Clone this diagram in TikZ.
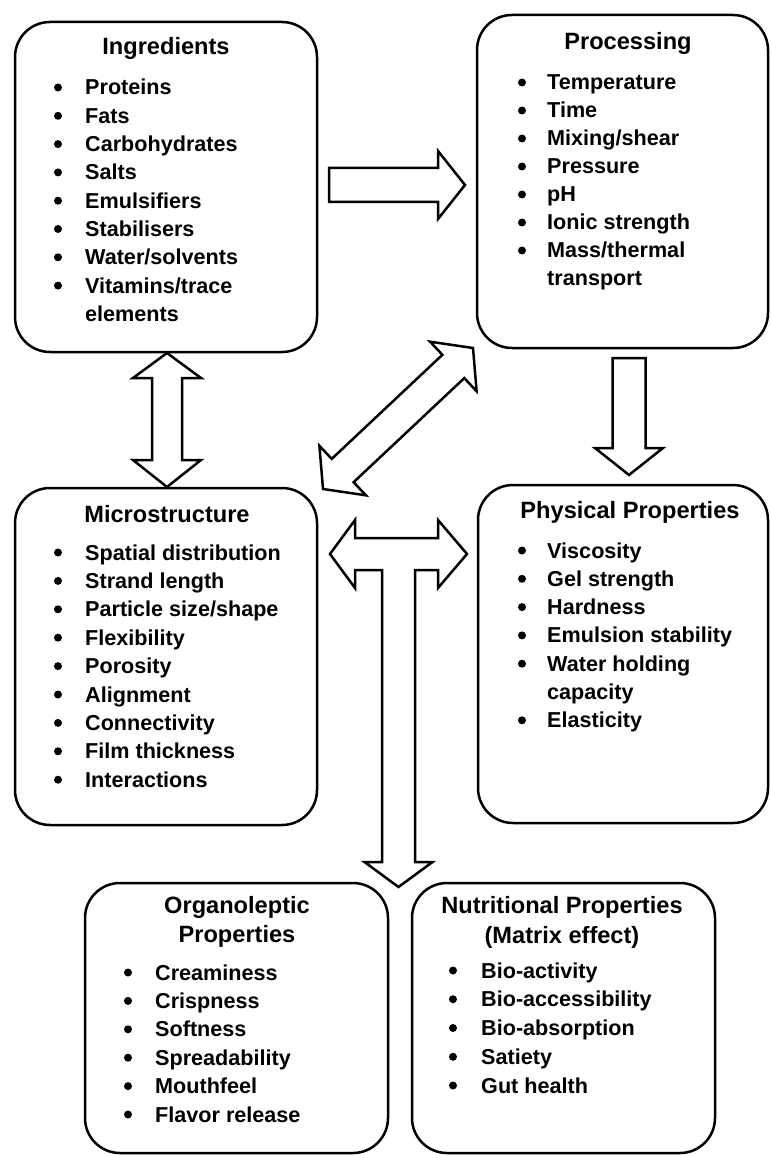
\documentclass[tikz,border=0pt]{standalone}
\usepackage{fontspec}
\setmainfont{Liberation Sans}
\usetikzlibrary{calc}
\tikzset{
  box/.style={draw, line width=2.5pt, rounded corners=35pt, inner sep=0pt},
  ttl/.style={anchor=base, inner sep=0pt, font=\bfseries\fontsize{23.6}{28}\selectfont},
  itm/.style={anchor=base west, inner sep=0pt, font=\bfseries\fontsize{21.6}{28}\selectfont},
  blockarrow/.style={draw, line width=2.5pt, fill=white, line join=miter},
}
\begin{document}
\begin{tikzpicture}[x=1pt,y=-1pt]
\useasboundingbox (0,0) rectangle (770,1155);
% boxes
\node[box, minimum width=302, minimum height=330] (ing) at (166,187) {};
\node[box, minimum width=291, minimum height=333] (proc) at (622.5,181.5) {};
\node[box, minimum width=302, minimum height=337] (micro) at (166,656.5) {};
\node[box, minimum width=290, minimum height=338] (phys) at (623,654) {};
\node[box, minimum width=303, minimum height=270] (org) at (236.5,1018) {};
\node[box, minimum width=303, minimum height=270] (nut) at (563.5,1018) {};
% titles
\node[ttl] (ingT) at (166,55) {Ingredients};
\node[ttl] (procT) at (628,50) {Processing};
\node[ttl] (microT) at (167,522) {Microstructure};
\node[ttl] (physT) at (630,518) {Physical Properties};
\node[ttl] (orgT1) at (237,913) {Organoleptic};
\node[ttl] (orgT2) at (237,942) {Properties};
\node[ttl] (nutT1) at (562,913) {Nutritional Properties};
\node[ttl] (nutT2) at (562,943) {(Matrix effect)};
% items
\foreach \t/\b [count=\i from 0] in {Proteins/1,Fats/1,Carbohydrates/1,Salts/1,Emulsifiers/1,Stabilisers/1,{Water/solvents}/1,{Vitamins/trace}/1,elements/0}{
  \node[itm] (ing\i) at (85,{95+28.3*\i}) {\t};
  \ifnum\b=1 \fill (58,{95+28.3*\i-7.5}) circle[radius=4pt]; \fi
}
\foreach \t/\b [count=\i from 0] in {Temperature/1,Time/1,{Mixing/shear}/1,Pressure/1,pH/1,Ionic strength/1,{Mass/thermal}/1,transport/0}{
  \node[itm] (proc\i) at (547,{90+28*\i}) {\t};
  \ifnum\b=1 \fill (522,{90+28*\i-7.5}) circle[radius=4pt]; \fi
}
\foreach \t [count=\i from 0] in {Spatial distribution,Strand length,{Particle size/shape},Flexibility,Porosity,Alignment,Connectivity,Film thickness,Interactions}{
  \node[itm] (micro\i) at (85,{560+28.4*\i}) {\t};
  \fill (58,{560+28.4*\i-7.5}) circle[radius=4pt];
}
\foreach \t/\b [count=\i from 0] in {Viscosity/1,Gel strength/1,Hardness/1,Emulsion stability/1,Water holding/1,capacity/0,Elasticity/1}{
  \node[itm] (phys\i) at (547,{558+28.3*\i}) {\t};
  \ifnum\b=1 \fill (522,{558+28.3*\i-7.5}) circle[radius=4pt]; \fi
}
\foreach \t [count=\i from 0] in {Creaminess,Crispness,Softness,Spreadability,Mouthfeel,Flavor release}{
  \node[itm] (org\i) at (155,{980+28.4*\i}) {\t};
  \fill (128,{980+28.4*\i-7.5}) circle[radius=4pt];
}
\foreach \t [count=\i from 0] in {Bio-activity,Bio-accessibility,Bio-absorption,Satiety,Gut health}{
  \node[itm] (nut\i) at (481,{978+28.75*\i}) {\t};
  \fill (453,{978+28.75*\i-7.5}) circle[radius=4pt];
}
% arrows
% Ingredients -> Processing
\draw[blockarrow] (329,168) -- (438,168) -- (438,151) -- (465,185) -- (438,219) -- (438,202) -- (329,202) -- cycle;
% Ingredients <-> Microstructure
\draw[blockarrow] (167,353) -- (201,378) -- (182,378) -- (182,460) -- (201,460) -- (167,487) -- (133,460) -- (152,460) -- (152,378) -- (133,378) -- cycle;
% Processing -> Physical
\draw[blockarrow] (612.5,358) -- (645.5,358) -- (645.5,448) -- (663,448) -- (629,475) -- (595,448) -- (612.5,448) -- cycle;
% Microstructure <-> Processing (diagonal)
\draw[blockarrow] (323,489) -- (365.9,495.3) -- (353.6,482.2) -- (464.3,378.1) -- (476.6,391.2) -- (473,348) -- (430.1,341.7) -- (442.4,354.8) -- (331.7,458.9) -- (319.4,445.8) -- cycle;
% T arrow
\draw[blockarrow] (330,554) -- (355,520) -- (355,538) -- (438,538) -- (438,520) -- (467,554) -- (438,588) -- (438,570) -- (415,570) -- (415,862) -- (432.5,862) -- (398.5,887) -- (364.5,862) -- (382,862) -- (382,570) -- (355,570) -- (355,588) -- cycle;
\end{tikzpicture}
\end{document}
